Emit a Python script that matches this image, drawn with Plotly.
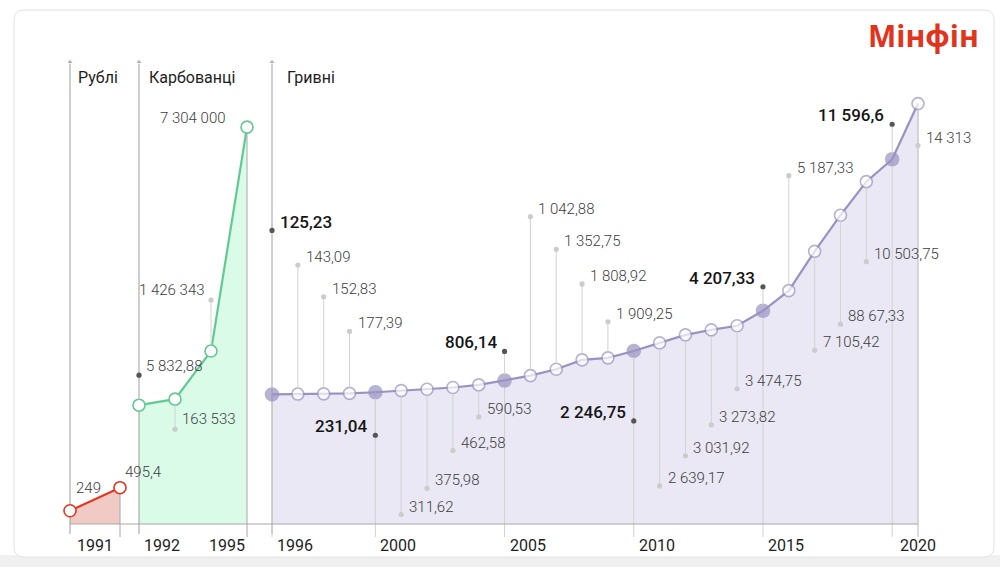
import plotly.graph_objects as go

W, H = 1000, 567

# ---- data ----
rub_idx = [0, 1]
rub_vals = [249, 495.4]
rub_text = ["249", "495,4"]

karb_years = [1992, 1993, 1994, 1995]
karb_vals = [5832.88, 163533, 1426343, 7304000]
karb_text = ["5 832,88", "163 533", "1 426 343", "7 304 000"]

hryv_vals = [125.23, 143.09, 152.83, 177.39, 231.04, 311.62, 375.98, 462.58, 590.53, 806.14,
             1042.88, 1352.75, 1808.92, 1909.25, 2246.75, 2639.17, 3031.92, 3273.82, 3474.75,
             4207.33, 5187.33, 7105.42, 8867.33, 10503.75, 11596.6, 14313]
hryv_text = ["125,23", "143,09", "152,83", "177,39", "231,04", "311,62", "375,98", "462,58",
             "590,53", "806,14", "1 042,88", "1 352,75", "1 808,92", "1 909,25", "2 246,75",
             "2 639,17", "3 031,92", "3 273,82", "3 474,75", "4 207,33", "5 187,33", "7 105,42",
             "88 67,33", "10 503,75", "11 596,6", "14 313"]
hryv_idx = list(range(len(hryv_vals)))
hryv_key = [0, 4, 9, 14, 19, 24]

rub_ticks = [(0, "1991", "left")]
karb_ticks = [(1992, "1992", "left"), (1995, "1995", "right")]
hryv_ticks = [(0, "1996", "left"), (4, "2000", "left"), (9, "2005", "left"),
              (14, "2010", "left"), (19, "2015", "left"), (25, "2020", "center")]

# ---- styling / geometry ----
FONT = "Roboto"
BASE = 43          # baseline, px from bottom
BOTTOM = 30        # end of drop lines, px from bottom
TOP = 505          # arrow tips, px from bottom
STEM = "#d2d2d2"
DOT_LIGHT = "#cccccc"
DOT_DARK = "#555555"

# pixel mapping of each section (broken scale, like the original infographic)
g_rub = dict(x0=0, px0=70, ppx=50, zero=-10, k=0.0935)
g_karb = dict(x0=1992, px0=139, ppx=36, zero=118.6, k=3.81e-5)
g_hryv = dict(x0=0, px0=272, ppx=25.84, zero=127, k=0.0205)

# stem offsets (px, + is up) and label side for every hryvnia point
hryv_off = [164, 129, 97, 62, -43, -124, -99, -63, -32, 29, 159, 120, 76, 36, -70,
            -143, -121, -95, -63, 24, 115, -99, -109, -80, 35, -42]
hryv_side = "rrrrlrrrrlrrrrlrrrrlrrrrlr"


def xr(g):
    return [g["x0"] - g["px0"] / g["ppx"], g["x0"] + (W - g["px0"]) / g["ppx"]]


def yr(g):
    return [(-BASE - g["zero"]) / g["k"], (H - BASE - g["zero"]) / g["k"]]


def yval(g, p):
    return (p - BASE - g["zero"]) / g["k"]


def xpaper(g, x):
    return (g["px0"] + (x - g["x0"]) * g["ppx"]) / W


fig = go.Figure()
shapes = []
annotations = []


def label(xref, yref, x, y, text, dx, dy, anchor, dark=False):
    annotations.append(dict(
        xref=xref, yref=yref, x=x, y=y, text=text, showarrow=False,
        xanchor=anchor, yanchor="middle", xshift=dx, yshift=dy,
        font=dict(family=FONT, size=17 if dark else 15,
                  color="#151515" if dark else "#3d3d3d",
                  weight=500 if dark else 300)))


def stem(xref, yref, x, y, off, dark=False):
    start = 6 if off > 0 else -6
    shapes.append(dict(type="line", xref=xref, yref=yref, x0=x, x1=x,
                       ysizemode="pixel", yanchor=y, y0=start, y1=off,
                       line=dict(color=STEM, width=1), layer="above"))
    shapes.append(dict(type="circle", xref=xref, yref=yref,
                       xsizemode="pixel", xanchor=x, x0=-2.6, x1=2.6,
                       ysizemode="pixel", yanchor=y, y0=off - 2.6, y1=off + 2.6,
                       fillcolor=DOT_DARK if dark else DOT_LIGHT,
                       line=dict(width=0), layer="above"))


def section(n, g, xs, ys, color, fill, drops, drop_colors):
    xa = "x" if n == 1 else f"x{n}"
    ya = "y" if n == 1 else f"y{n}"
    base = yval(g, BASE)
    fig.add_trace(go.Scatter(x=xs, y=[base] * len(xs), xaxis=xa, yaxis=ya, mode="lines",
                             line=dict(width=0), hoverinfo="skip", showlegend=False))
    fig.add_trace(go.Scatter(x=xs, y=ys, xaxis=xa, yaxis=ya, mode="lines", fill="tonexty",
                             fillcolor=fill, line=dict(color=color, width=2.2),
                             hoverinfo="skip", showlegend=False))
    # section axis with arrow
    fig.add_trace(go.Scatter(x=[xs[0], xs[0]], y=[yval(g, BOTTOM + 3), yval(g, TOP)],
                             xaxis=xa, yaxis=ya, mode="lines+markers",
                             line=dict(color="#9c9c9c", width=1),
                             marker=dict(symbol="triangle-up", size=[0, 6], color="#9c9c9c"),
                             hoverinfo="skip", showlegend=False))
    # drop lines
    for i, c in zip(drops, drop_colors):
        fig.add_trace(go.Scatter(x=[xs[i], xs[i]], y=[ys[i], yval(g, BOTTOM)],
                                 xaxis=xa, yaxis=ya, mode="lines",
                                 line=dict(color=c, width=1),
                                 hoverinfo="skip", showlegend=False))
    return xa, ya


# rubles
xa, ya = section(1, g_rub, rub_idx, rub_vals, "#e5361f", "#f2cac5", [1], ["#a8a8a8"])
fig.add_trace(go.Scatter(x=rub_idx, y=rub_vals, xaxis=xa, yaxis=ya, mode="markers",
                         marker=dict(size=12, color="white", line=dict(color="#e5361f", width=1.6)),
                         cliponaxis=False, hoverinfo="skip", showlegend=False))
label(xa, ya, rub_idx[0], rub_vals[0], rub_text[0], 4, 23, "left")
label(xa, ya, rub_idx[1], rub_vals[1], rub_text[1], 3, 16, "left")

# karbovantsi
xa, ya = section(2, g_karb, karb_years, karb_vals, "#62c992", "#d9fbe8", [3], ["#a8a8a8"])
fig.add_trace(go.Scatter(x=karb_years, y=karb_vals, xaxis=xa, yaxis=ya, mode="markers",
                         marker=dict(size=12, color="white", line=dict(color="#62c992", width=1.6)),
                         cliponaxis=False, hoverinfo="skip", showlegend=False))
stem(xa, ya, karb_years[0], karb_vals[0], 30, dark=True)
label(xa, ya, karb_years[0], karb_vals[0], karb_text[0], 5, 39, "left")
stem(xa, ya, karb_years[1], karb_vals[1], -30)
label(xa, ya, karb_years[1], karb_vals[1], karb_text[1], 5, -20, "left")
stem(xa, ya, karb_years[2], karb_vals[2], 51)
label(xa, ya, karb_years[2], karb_vals[2], karb_text[2], -4, 61, "right")
label(xa, ya, karb_years[3], karb_vals[3], karb_text[3], -19, 9, "right")

# hryvni
xa, ya = section(3, g_hryv, hryv_idx, hryv_vals, "#9a93c1", "#e9e8f4",
                 hryv_key + [25], [STEM] * len(hryv_key) + ["#b8b8b8"])
fig.add_trace(go.Scatter(
    x=hryv_idx, y=hryv_vals, xaxis=xa, yaxis=ya, mode="markers",
    marker=dict(size=[13 if i in hryv_key else 12 for i in hryv_idx],
                color=["#9a93c1" if i in hryv_key else "white" for i in hryv_idx],
                line=dict(color="#9a93c1", width=1.6)),
    cliponaxis=False, hoverinfo="skip", showlegend=False))
for i in hryv_idx:
    dark = i in hryv_key
    off = hryv_off[i]
    stem(xa, ya, i, hryv_vals[i], off, dark)
    if hryv_side[i] == "r":
        label(xa, ya, i, hryv_vals[i], hryv_text[i], 6, off + 8, "left", dark)
    else:
        label(xa, ya, i, hryv_vals[i], hryv_text[i], -6, off + 9, "right", dark)

# year labels under the baseline
for g, n, ticks in [(g_rub, 1, rub_ticks), (g_karb, 2, karb_ticks), (g_hryv, 3, hryv_ticks)]:
    xref = "x" if n == 1 else f"x{n}"
    for x, t, anchor in ticks:
        dx = {"left": 3, "right": 0, "center": 0}[anchor]
        if n == 1:
            dx = 5
        annotations.append(dict(xref=xref, yref="paper", x=x, y=22 / H, text=t,
                                showarrow=False, xanchor=anchor, yanchor="middle", xshift=dx,
                                font=dict(family=FONT, size=16, color="#1e1e1e")))

# section titles
for g, n, t, dx in [(g_rub, 1, "Рублі", 6), (g_karb, 2, "Карбованці", 8), (g_hryv, 3, "Гривні", 13)]:
    xref = "x" if n == 1 else f"x{n}"
    annotations.append(dict(xref=xref, yref="paper", x=g["x0"], y=(H - 77) / H, text=t,
                            showarrow=False, xanchor="left", yanchor="middle", xshift=dx,
                            font=dict(family=FONT, size=16, color="#1e1e1e")))

# logo
annotations.append(dict(xref="paper", yref="paper", x=866 / W, y=(H - 35) / H, text="Мінфін",
                        showarrow=False, xanchor="left", yanchor="middle",
                        font=dict(family="Open Sans", size=30, color="#e2341d", weight=700)))

# baseline
shapes.append(dict(type="line", xref="paper", yref="paper",
                   x0=xpaper(g_rub, rub_idx[0]), x1=xpaper(g_hryv, hryv_idx[-1]),
                   y0=BASE / H, y1=BASE / H, line=dict(color="#a8a8a8", width=1), layer="above"))

# card background
x0, x1 = 14 / W, 994 / W
y0, y1 = (H - 557) / H, (H - 10) / H
rx, ry = 10 / W, 10 / H
card = (f"M {x0 + rx},{y1} L {x1 - rx},{y1} Q {x1},{y1} {x1},{y1 - ry} "
        f"L {x1},{y0 + ry} Q {x1},{y0} {x1 - rx},{y0} L {x0 + rx},{y0} "
        f"Q {x0},{y0} {x0},{y0 + ry} L {x0},{y1 - ry} Q {x0},{y1} {x0 + rx},{y1} Z")
shapes.insert(0, dict(type="path", xref="paper", yref="paper", path=card,
                      fillcolor="white", line=dict(color="#e2e2e2", width=1), layer="below"))
shapes.insert(0, dict(type="rect", xref="paper", yref="paper", x0=0, x1=1, y0=0, y1=(H - 555) / H,
                      fillcolor="#f0f0f0", line=dict(width=0), layer="below"))

axis_off = dict(visible=False, showgrid=False, zeroline=False, fixedrange=True)
fig.update_layout(
    width=W, height=H,
    margin=dict(l=0, r=0, t=0, b=0),
    paper_bgcolor="white",
    plot_bgcolor="rgba(0,0,0,0)",
    showlegend=False,
    xaxis=dict(range=xr(g_rub), domain=[0, 1], anchor="y", **axis_off),
    yaxis=dict(range=yr(g_rub), domain=[0, 1], anchor="x", **axis_off),
    xaxis2=dict(range=xr(g_karb), domain=[0, 1], anchor="y2", overlaying="x", **axis_off),
    yaxis2=dict(range=yr(g_karb), domain=[0, 1], anchor="x2", overlaying="y", **axis_off),
    xaxis3=dict(range=xr(g_hryv), domain=[0, 1], anchor="y3", overlaying="x", **axis_off),
    yaxis3=dict(range=yr(g_hryv), domain=[0, 1], anchor="x3", overlaying="y", **axis_off),
    shapes=shapes,
    annotations=annotations,
)

fig.write_html("out.html", config={"displayModeBar": False},
               post_script="document.body.style.margin='0';")
